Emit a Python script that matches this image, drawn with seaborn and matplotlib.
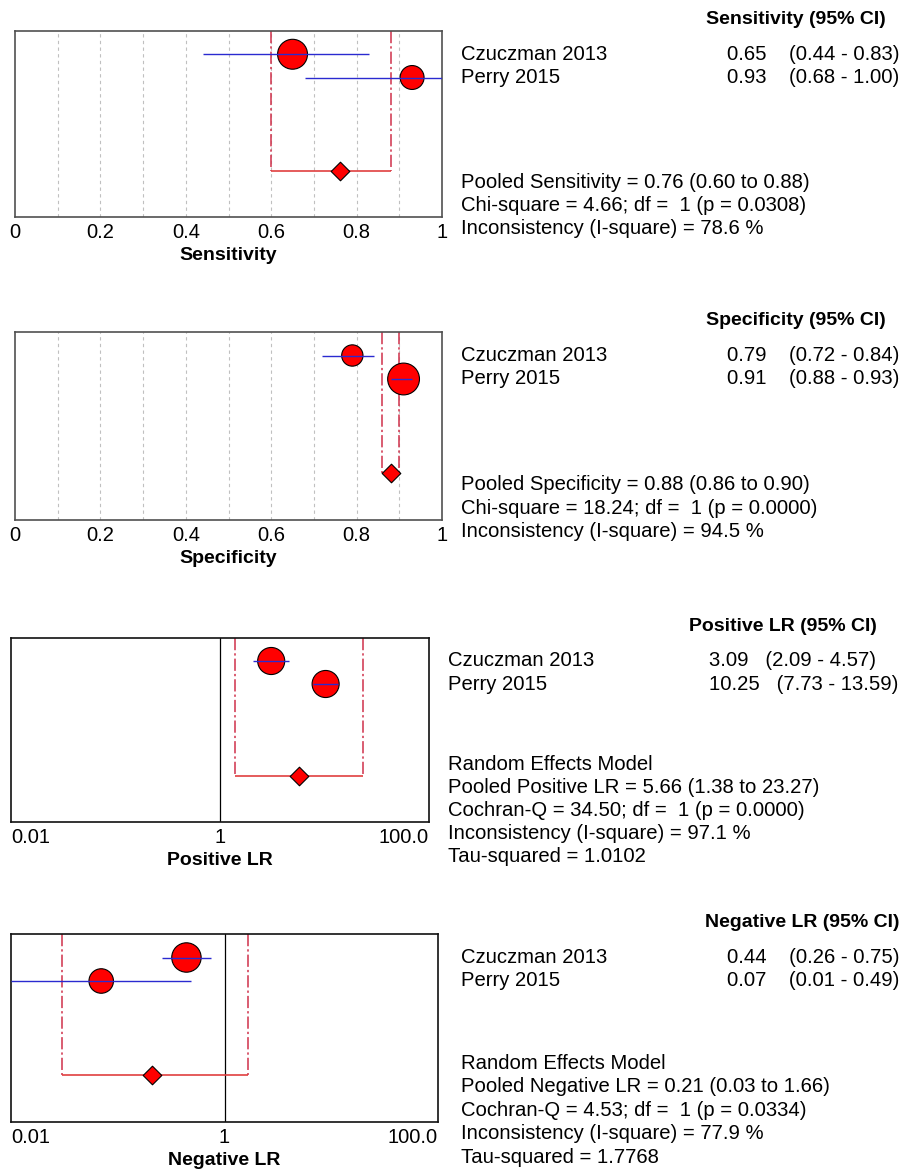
import matplotlib
matplotlib.use("Agg")
import matplotlib.pyplot as plt
import matplotlib.transforms as mtransforms
import seaborn as sns

sns.set_style("white")
plt.rcParams['font.family'] = ['Liberation Sans', 'DejaVu Sans']
plt.rcParams['text.color'] = 'black'
plt.rcParams['axes.labelcolor'] = 'black'

studies = ["Czuczman 2013", "Perry 2015"]

# sensitivity
sens_est = [0.65, 0.93]
sens_lo = [0.44, 0.68]
sens_hi = [0.83, 1.00]
sens_w = [61, 39]
sens_pool = [0.76, 0.60, 0.88]
sens_stats = ["Pooled Sensitivity = 0.76 (0.60 to 0.88)",
              "Chi-square = 4.66; df =  1 (p = 0.0308)",
              "Inconsistency (I-square) = 78.6 %"]

# specificity
spec_est = [0.79, 0.91]
spec_lo = [0.72, 0.88]
spec_hi = [0.84, 0.93]
spec_w = [31, 69]
spec_pool = [0.88, 0.86, 0.90]
spec_stats = ["Pooled Specificity = 0.88 (0.86 to 0.90)",
              "Chi-square = 18.24; df =  1 (p = 0.0000)",
              "Inconsistency (I-square) = 94.5 %"]

# positive LR
plr_est = [3.09, 10.25]
plr_lo = [2.09, 7.73]
plr_hi = [4.57, 13.59]
plr_w = [50, 50]
plr_pool = [5.66, 1.38, 23.27]
plr_stats = ["Random Effects Model",
             "Pooled Positive LR = 5.66 (1.38 to 23.27)",
             "Cochran-Q = 34.50; df =  1 (p = 0.0000)",
             "Inconsistency (I-square) = 97.1 %",
             "Tau-squared = 1.0102"]

# negative LR
nlr_est = [0.44, 0.07]
nlr_lo = [0.26, 0.01]
nlr_hi = [0.75, 0.49]
nlr_w = [59, 41]
nlr_pool = [0.21, 0.03, 1.66]
nlr_stats = ["Random Effects Model",
             "Pooled Negative LR = 0.21 (0.03 to 1.66)",
             "Cochran-Q = 4.53; df =  1 (p = 0.0334)",
             "Inconsistency (I-square) = 77.9 %",
             "Tau-squared = 1.7768"]

W, H = 900, 1169
FS = 14.6
fig = plt.figure(figsize=(W / 100, H / 100), dpi=100)


def add_axes_px(x0, y0, x1, y1):
    return fig.add_axes([x0 / W, 1 - y1 / H, (x1 - x0) / W, (y1 - y0) / H])


def forest(box, name_x, val_x, title_x, title, xlabel, est, lo, hi, wts, pool,
           stats, log=False, gap="    "):
    ax = add_axes_px(*box)
    rows = [1, 2]
    pool_y = 6
    sizes = {w: 7.6 * w for w in wts}
    sns.scatterplot(x=est, y=rows, size=wts, sizes=sizes, color="#ff0000",
                    edgecolor="black", linewidth=0.8, legend=False, ax=ax, zorder=3)
    ax.hlines(rows, lo, hi, color="#2a2ad0", lw=1, zorder=4)
    # pooled CI bracket
    ax.vlines([pool[1], pool[2]], 0, pool_y, color="#d0304a", lw=1.1,
              linestyles=(0, (8, 2, 1.5, 2)), zorder=2)
    ax.hlines(pool_y, pool[1], pool[2], color="#e04040", lw=1.2, zorder=2)
    sns.scatterplot(x=[pool[0]], y=[pool_y], marker="D", s=90, color="#ff0000",
                    edgecolor="black", linewidth=0.8, legend=False, ax=ax, zorder=5)
    ax.set_ylim(8, 0)
    ax.set_yticks([])
    if log:
        ax.set_xscale("log")
        ax.set_xlim(0.01, 100)
        ax.set_xticks([0.01, 1, 100])
        ax.set_xticklabels(["0.01", "1", "100.0"])
        ax.xaxis.set_minor_locator(matplotlib.ticker.NullLocator())
        labs = ax.get_xticklabels()
        labs[0].set_ha("left")
        labs[-1].set_ha("right")
        ax.axvline(1, color="black", lw=0.9, zorder=1)
        edge = "#111111"
    else:
        ax.set_xlim(0, 1)
        ax.set_xticks([0, 0.2, 0.4, 0.6, 0.8, 1.0])
        ax.set_xticklabels(["0", "0.2", "0.4", "0.6", "0.8", "1"])
        for g in [0.1, 0.2, 0.3, 0.4, 0.5, 0.6, 0.7, 0.8, 0.9]:
            ax.axvline(g, color="#c0c0c0", lw=0.8, ls=(0, (3, 3)), zorder=1)
        edge = "#505050"
    for sp in ax.spines.values():
        sp.set_color(edge)
        sp.set_linewidth(1.2)
    ax.tick_params(axis="x", length=0, pad=4, labelsize=14.5, colors="black")
    ax.set_xlabel(xlabel, fontsize=14, fontweight="bold", labelpad=4)

    tr = mtransforms.blended_transform_factory(fig.transFigure, ax.transData)
    ax.text(title_x / W, -0.5, title, transform=tr, fontsize=14,
            fontweight="bold", va="center", ha="left", clip_on=False)
    for r, nm, e, l, h in zip(rows, studies, est, lo, hi):
        ax.text(name_x / W, r, nm, transform=tr, fontsize=FS, va="center",
                ha="left", clip_on=False)
        ax.text(val_x / W, r, f"{e:.2f}{gap}({l:.2f} - {h:.2f})", transform=tr,
                fontsize=FS, va="center", ha="left", clip_on=False)
    start = 6.5 if len(stats) == 3 else 5.5
    for i, s in enumerate(stats):
        ax.text(name_x / W, start + i, s, transform=tr, fontsize=FS,
                va="center", ha="left", clip_on=False)
    return ax


forest((15, 31, 442, 217), 461, 727, 706, "Sensitivity (95% CI)", "Sensitivity",
       sens_est, sens_lo, sens_hi, sens_w, sens_pool, sens_stats)
forest((15, 332, 442, 520), 461, 727, 706, "Specificity (95% CI)", "Specificity",
       spec_est, spec_lo, spec_hi, spec_w, spec_pool, spec_stats)
forest((11, 638, 429, 822), 448, 709, 689, "Positive LR (95% CI)", "Positive LR",
       plr_est, plr_lo, plr_hi, plr_w, plr_pool, plr_stats, log=True, gap="   ")
forest((11, 934, 438, 1122), 461, 727, 705, "Negative LR (95% CI)", "Negative LR",
       nlr_est, nlr_lo, nlr_hi, nlr_w, nlr_pool, nlr_stats, log=True)

fig.savefig("out.png", dpi=100)
